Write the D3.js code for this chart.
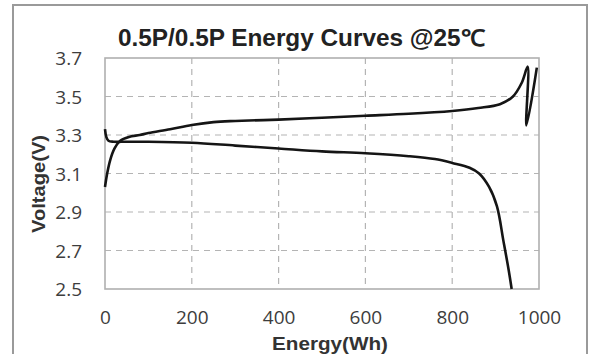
<!DOCTYPE html>
<html>
<head>
<meta charset="utf-8">
<script src="https://cdn.jsdelivr.net/npm/d3@7"></script>
<style>
  html, body { margin: 0; padding: 0; background: #fff; }
  svg { display: block; }
</style>
</head>
<body>
<svg id="chart" width="590" height="354"></svg>
<script>
// ---- data ----
const chargeEnergy  = [0, 5, 12, 22, 35, 55, 80, 100, 150, 200, 250, 300, 400, 500, 600, 700, 800, 860, 910, 940, 960, 974, 971, 995];
const chargeVoltage = [3.03, 3.10, 3.17, 3.23, 3.27, 3.29, 3.30, 3.31, 3.33, 3.352, 3.367, 3.373, 3.38, 3.39, 3.40, 3.41, 3.425, 3.44, 3.46, 3.50, 3.57, 3.655, 3.35, 3.65];
const dischargeEnergy  = [0, 3, 8, 20, 50, 100, 200, 300, 400, 500, 600, 700, 760, 800, 840, 862, 885, 903, 918, 930, 937];
const dischargeVoltage = [3.33, 3.29, 3.27, 3.265, 3.265, 3.265, 3.26, 3.245, 3.23, 3.215, 3.205, 3.19, 3.175, 3.155, 3.13, 3.10, 3.03, 2.93, 2.75, 2.60, 2.50];
const xTicks = [0, 200, 400, 600, 800, 1000];
const yTicks = [2.5, 2.7, 2.9, 3.1, 3.3, 3.5, 3.7];
const titleText = "0.5P/0.5P Energy Curves @25\u2103";
const xLabel = "Energy(Wh)";
const yLabel = "Voltage(V)";

// ---- layout ----
const svg = d3.select("#chart");
const L = 105, R = 539, T = 58, B = 289;
const x = d3.scaleLinear().domain([0, 1000]).range([L, R]);
const y = d3.scaleLinear().domain([2.5, 3.7]).range([B, T]);

// outer frame
svg.append("rect").attr("x", 13).attr("y", 5).attr("width", 574).attr("height", 360)
  .attr("fill", "#fff").attr("stroke", "#9a9a9a").attr("stroke-width", 2);

// grid
const grid = svg.append("g");
grid.selectAll("line.h").data(yTicks.filter(v => v > 2.5 && v < 3.7)).join("line")
  .attr("x1", L).attr("x2", R).attr("y1", d => y(d)).attr("y2", d => y(d))
  .attr("stroke", "#b4b4b4").attr("stroke-width", 1.2).attr("stroke-dasharray", "6,5");
grid.selectAll("line.v").data(xTicks.filter(v => v > 0 && v < 1000)).join("line")
  .attr("y1", T).attr("y2", B).attr("x1", d => x(d)).attr("x2", d => x(d))
  .attr("stroke", "#b4b4b4").attr("stroke-width", 1.2).attr("stroke-dasharray", "6,5");

// plot border
svg.append("rect").attr("x", L).attr("y", T).attr("width", R - L).attr("height", B - T)
  .attr("fill", "none").attr("stroke", "#b0b0b0").attr("stroke-width", 1.6);

// axes (labels only)
const xAxis = d3.axisBottom(x).tickValues(xTicks).tickSize(0).tickPadding(0).tickFormat(d3.format("d"));
const gx = svg.append("g").attr("transform", `translate(0,${B})`).call(xAxis);
gx.select(".domain").remove();
gx.selectAll("text").attr("dy", null).attr("y", 35)
  .style("font-family", "'Open Sans', sans-serif").style("font-size", "19px").attr("fill", "#3d3d3d");

const yAxis = d3.axisLeft(y).tickValues(yTicks).tickSize(0).tickPadding(0).tickFormat(d3.format(".1f"));
const gy = svg.append("g").attr("transform", `translate(82,0)`).call(yAxis);
gy.select(".domain").remove();
gy.selectAll("text").attr("dy", "0.35em").attr("x", 0)
  .style("font-family", "'Open Sans', sans-serif").style("font-size", "19px").attr("fill", "#3d3d3d");

// lines
const line = d3.line().x(d => x(d[0])).y(d => y(d[1])).curve(d3.curveCatmullRom.alpha(0.5));
const charge = chargeEnergy.map((e, i) => [e, chargeVoltage[i]]);
const discharge = dischargeEnergy.map((e, i) => [e, dischargeVoltage[i]]);
svg.append("path").datum(discharge).attr("d", line)
  .attr("fill", "none").attr("stroke", "#151515").attr("stroke-width", 2.6).attr("stroke-linejoin", "round");
svg.append("path").datum(charge).attr("d", line)
  .attr("fill", "none").attr("stroke", "#151515").attr("stroke-width", 2.6).attr("stroke-linejoin", "round");

// title & axis labels
svg.append("text").attr("x", 301.5).attr("y", 46).attr("text-anchor", "middle")
  .attr("textLength", 367).attr("lengthAdjust", "spacingAndGlyphs")
  .style("font-family", "'Liberation Sans', Arial, sans-serif").style("font-weight", "bold")
  .style("font-size", "23px").attr("fill", "#222").text(titleText);

svg.append("text").attr("x", 330).attr("y", 350).attr("text-anchor", "middle")
  .attr("textLength", 116).attr("lengthAdjust", "spacingAndGlyphs")
  .style("font-family", "'Liberation Sans', Arial, sans-serif").style("font-weight", "bold")
  .style("font-size", "19px").attr("fill", "#333").text(xLabel);

svg.append("text").attr("transform", "translate(45,184) rotate(-90)").attr("text-anchor", "middle")
  .attr("textLength", 98).attr("lengthAdjust", "spacingAndGlyphs")
  .style("font-family", "'Liberation Sans', Arial, sans-serif").style("font-weight", "bold")
  .style("font-size", "18px").attr("fill", "#333").text(yLabel);
</script>
</body>
</html>
